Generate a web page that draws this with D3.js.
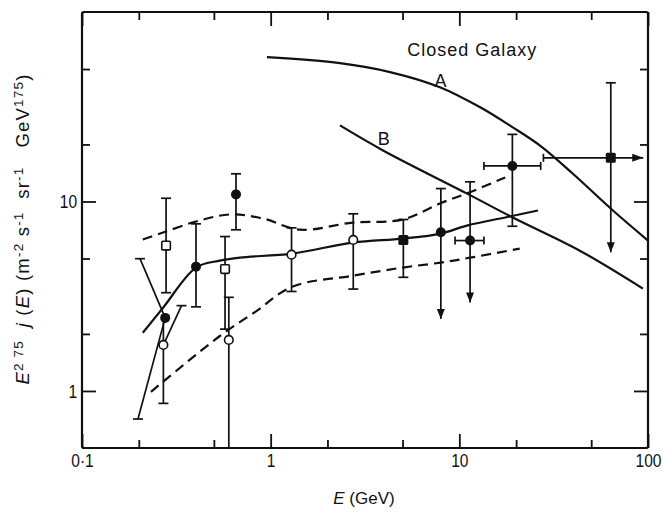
<!DOCTYPE html>
<html>
<head>
<meta charset="utf-8">
<script src="https://cdn.jsdelivr.net/npm/d3@7"></script>
<style>
  body { margin: 0; background: #fff; }
  svg { display: block; }
</style>
</head>
<body>
<div id="chart"></div>
<script>
// Axis ticks
const xMajorTicks = [0.1, 1, 10, 100];
const xMajorLabels = ['0·1', '1', '10', '100'];
const xMinorTicks = [0.2, 0.5, 2, 5, 20, 50];
const yMajorTicks = [1, 10];
const yMajorLabels = ['1', '10'];
const yMinorTicks = [2, 5, 20, 50];

// Closed galaxy model curves [E (GeV), flux]
const curveA = [[0.955, 57.8], [2.33, 53.7], [4.29, 48.2], [7.89, 40.1], [12.9, 31.4],
    [19.2, 24.6], [27.0, 19.6], [40.0, 14.0], [65.2, 8.96], [100, 6.22]];
const curveB = [[2.33, 25.2], [3.94, 18.6], [11.0, 11.0], [19.2, 8.23], [43.5, 5.5], [94, 3.47]];

// Fit through the data and its upper / lower bounds
const fitMid = [[0.21, 2.03], [0.269, 2.75], [0.402, 4.48], [0.538, 4.87], [0.687, 5.06],
    [1.30, 5.31], [2.73, 6.07], [5.02, 6.37], [7.98, 6.77], [10.96, 7.46], [18.5, 8.33], [26.1, 8.96]];
const fitUpper = [[0.21, 6.30], [0.269, 6.86], [0.402, 7.84], [0.608, 8.54], [0.91, 8.13],
    [1.43, 7.1], [2.73, 7.74], [5.02, 8.03], [7.89, 9.76], [11.4, 11.2], [17.5, 13.4]];
const fitLower = [[0.232, 0.99], [0.538, 1.95], [0.836, 2.63], [1.30, 3.55], [2.73, 4.06],
    [5.02, 4.48], [7.98, 4.76], [11.4, 5.05], [20.9, 5.64]];

// Measurements: lo/hi = vertical error, xLo/xHi = energy range, *Limit = arrow
const openCircles = [
    { x: 0.27, y: 1.75, lo: 0.86, hi: 2.43, hiOpen: true },
    { x: 0.60, y: 1.86, lo: 0.5, hi: 3.12 },
    { x: 1.29, y: 5.24, lo: 3.35, hi: 7.26 },
    { x: 2.74, y: 6.27, lo: 3.45, hi: 8.61 }
];
const filledCircles = [
    { x: 0.276, y: 2.43 },
    { x: 0.402, y: 4.53, lo: 2.78, hi: 7.62 },
    { x: 0.655, y: 10.9, lo: 7.09, hi: 14.0 },
    { x: 7.98, y: 6.88, lo: 2.40, hi: 11.7, loLimit: true },
    { x: 11.4, y: 6.22, lo: 2.93, hi: 12.7, loLimit: true, xLo: 9.49, xHi: 13.5 },
    { x: 19.1, y: 15.4, lo: 7.40, hi: 22.6, xLo: 13.5, xHi: 27.0 }
];
const openSquares = [
    { x: 0.279, y: 5.85, lo: 3.30, hi: 10.4 },
    { x: 0.573, y: 4.40, lo: 2.12, hi: 6.53 }
];
const filledSquares = [
    { x: 5.05, y: 6.27, lo: 3.98, hi: 8.03 },
    { x: 63.5, y: 17.0, lo: 5.39, hi: 42.3, loLimit: true, xLo: 27.9, xHi: 94.4, xLimit: true }
];
// slanted bars from a point to a capped end
const slantBars = [
    { from: [0.276, 2.43], to: [0.203, 4.99] },
    { from: [0.276, 2.43], to: [0.198, 0.711] },
    { from: [0.27, 1.75], to: [0.337, 2.82] }
];

const curveLabels = [
    { text: 'Closed Galaxy', x: 11.7, y: 63 },
    { text: 'A', x: 8.0, y: 43.5 },
    { text: 'B', x: 4.0, y: 21.5 }
];

const W = 663, H = 513;
const margin = { top: 12, right: 15, bottom: 65, left: 82 };
const width = W - margin.left - margin.right;
const height = H - margin.top - margin.bottom;
const ink = '#111';
const textFont = '"Liberation Sans", Arial, sans-serif';

const svg = d3.select('#chart').append('svg')
    .attr('width', W)
    .attr('height', H);

const g = svg.append('g')
    .attr('transform', `translate(${margin.left},${margin.top})`);

const xScale = d3.scaleLog().domain([0.1, 100]).range([0, width]);
const yScale = d3.scaleLog().domain([0.5, 100]).range([height, 0]);

// Ticks on all four sides, pointing inward
function styleAxis(sel) {
    sel.select('.domain').remove();
    sel.selectAll('line').attr('stroke', ink).attr('stroke-width', 1.8);
    sel.selectAll('text')
        .attr('fill', ink)
        .attr('transform', 'scale(0.82,1)')
        .style('font-family', textFont)
        .style('font-size', '19px');
}

g.append('g').attr('transform', `translate(0,${height})`)
    .call(d3.axisBottom(xScale).tickValues(xMajorTicks).tickSize(-14).tickPadding(6)
        .tickFormat((d, i) => xMajorLabels[i]))
    .call(styleAxis);
g.append('g').attr('transform', `translate(0,${height})`)
    .call(d3.axisBottom(xScale).tickValues(xMinorTicks).tickSize(-8).tickFormat(''))
    .call(styleAxis);
g.append('g')
    .call(d3.axisTop(xScale).tickValues(xMajorTicks).tickSize(-14).tickFormat(''))
    .call(styleAxis);
g.append('g')
    .call(d3.axisTop(xScale).tickValues(xMinorTicks).tickSize(-8).tickFormat(''))
    .call(styleAxis);
g.append('g')
    .call(d3.axisLeft(yScale).tickValues(yMajorTicks).tickSize(-14).tickPadding(6)
        .tickFormat((d, i) => yMajorLabels[i]))
    .call(styleAxis);
g.append('g')
    .call(d3.axisLeft(yScale).tickValues(yMinorTicks).tickSize(-8).tickFormat(''))
    .call(styleAxis);
g.append('g').attr('transform', `translate(${width},0)`)
    .call(d3.axisRight(yScale).tickValues(yMajorTicks).tickSize(-14).tickFormat(''))
    .call(styleAxis);
g.append('g').attr('transform', `translate(${width},0)`)
    .call(d3.axisRight(yScale).tickValues(yMinorTicks).tickSize(-8).tickFormat(''))
    .call(styleAxis);

// Frame
g.append('rect')
    .attr('width', width)
    .attr('height', height)
    .attr('fill', 'none')
    .attr('stroke', ink)
    .attr('stroke-width', 2.2)
    .attr('rx', 2);

// Curves
const line = d3.line()
    .x(d => xScale(d[0]))
    .y(d => yScale(d[1]))
    .curve(d3.curveCatmullRom.alpha(0.5));

[
    { data: curveA, dash: null },
    { data: curveB, dash: null },
    { data: fitMid, dash: null },
    { data: fitUpper, dash: '10,6' },
    { data: fitLower, dash: '10,6' }
].forEach(c => {
    g.append('path')
        .datum(c.data)
        .attr('d', line)
        .attr('fill', 'none')
        .attr('stroke', ink)
        .attr('stroke-width', 2.2)
        .attr('stroke-dasharray', c.dash);
});

// Error bars
const bars = g.append('g')
    .attr('stroke', ink)
    .attr('stroke-width', 1.7)
    .attr('fill', ink);
const capHalf = 5;

function downArrow(px, py) {
    bars.append('path')
        .attr('stroke', 'none')
        .attr('d', `M${px},${py} L${px - 4},${py - 10} L${px + 4},${py - 10} Z`);
}
function rightArrow(px, py) {
    bars.append('path')
        .attr('stroke', 'none')
        .attr('d', `M${px},${py} L${px - 11},${py - 4} L${px - 11},${py + 4} Z`);
}

function errorBars(points) {
    points.forEach(p => {
        const cx = xScale(p.x);
        const cy = yScale(p.y);
        if (p.lo !== undefined) {
            const yLo = yScale(p.lo);
            const yHi = yScale(p.hi);
            bars.append('line').attr('x1', cx).attr('x2', cx).attr('y1', yLo).attr('y2', yHi);
            if (!p.hiOpen) {
                bars.append('line').attr('x1', cx - capHalf).attr('x2', cx + capHalf)
                    .attr('y1', yHi).attr('y2', yHi);
            }
            if (p.loLimit) {
                downArrow(cx, yLo);
            } else {
                bars.append('line').attr('x1', cx - capHalf).attr('x2', cx + capHalf)
                    .attr('y1', yLo).attr('y2', yLo);
            }
        }
        if (p.xLo !== undefined) {
            const xLo = xScale(p.xLo);
            const xHi = xScale(p.xHi);
            bars.append('line').attr('x1', xLo).attr('x2', xHi).attr('y1', cy).attr('y2', cy);
            bars.append('line').attr('x1', xLo).attr('x2', xLo)
                .attr('y1', cy - 4).attr('y2', cy + 4);
            if (p.xLimit) {
                rightArrow(xHi, cy);
            } else {
                bars.append('line').attr('x1', xHi).attr('x2', xHi)
                    .attr('y1', cy - 4).attr('y2', cy + 4);
            }
        }
    });
}

[openCircles, filledCircles, openSquares, filledSquares].forEach(errorBars);

slantBars.forEach(s => {
    const x1 = xScale(s.from[0]), y1 = yScale(s.from[1]);
    const x2 = xScale(s.to[0]), y2 = yScale(s.to[1]);
    bars.append('line').attr('x1', x1).attr('y1', y1).attr('x2', x2).attr('y2', y2);
    bars.append('line').attr('x1', x2 - capHalf).attr('x2', x2 + capHalf)
        .attr('y1', y2).attr('y2', y2);
});

// Markers
g.selectAll('.open-circle')
    .data(openCircles)
    .enter()
    .append('circle')
    .attr('class', 'open-circle')
    .attr('cx', d => xScale(d.x))
    .attr('cy', d => yScale(d.y))
    .attr('r', 4.3)
    .attr('fill', '#fff')
    .attr('stroke', ink)
    .attr('stroke-width', 1.6);

g.selectAll('.filled-circle')
    .data(filledCircles)
    .enter()
    .append('circle')
    .attr('class', 'filled-circle')
    .attr('cx', d => xScale(d.x))
    .attr('cy', d => yScale(d.y))
    .attr('r', 5)
    .attr('fill', ink);

g.selectAll('.open-square')
    .data(openSquares)
    .enter()
    .append('rect')
    .attr('class', 'open-square')
    .attr('x', d => xScale(d.x) - 4.3)
    .attr('y', d => yScale(d.y) - 4.3)
    .attr('width', 8.6)
    .attr('height', 8.6)
    .attr('rx', 1)
    .attr('fill', '#fff')
    .attr('stroke', ink)
    .attr('stroke-width', 1.6);

g.selectAll('.filled-square')
    .data(filledSquares)
    .enter()
    .append('rect')
    .attr('class', 'filled-square')
    .attr('x', d => xScale(d.x) - 5)
    .attr('y', d => yScale(d.y) - 5)
    .attr('width', 10)
    .attr('height', 10)
    .attr('rx', 1.5)
    .attr('fill', ink);

// Labels in the plot
g.selectAll('.curve-label')
    .data(curveLabels)
    .enter()
    .append('text')
    .attr('class', 'curve-label')
    .attr('x', d => xScale(d.x))
    .attr('y', d => yScale(d.y))
    .attr('text-anchor', 'middle')
    .attr('dy', '0.35em')
    .style('font-family', textFont)
    .style('font-size', '18px')
    .style('letter-spacing', '1px')
    .attr('fill', ink)
    .text(d => d.text);

// Axis titles
const xTitle = svg.append('text')
    .attr('x', 364)
    .attr('y', 504)
    .attr('text-anchor', 'middle')
    .style('font-family', textFont)
    .style('font-size', '17px')
    .attr('fill', ink);
xTitle.append('tspan').style('font-style', 'italic').text('E');
xTitle.append('tspan').text(' (GeV)');

const yTitleParts = [
    { t: 'E', it: true },
    { t: '2 75', sup: true },
    { t: '  ' },
    { t: 'j', it: true },
    { t: ' (' },
    { t: 'E', it: true },
    { t: ') (m' },
    { t: '-2', sup: true },
    { t: ' s' },
    { t: '-1', sup: true },
    { t: '  sr' },
    { t: '-1', sup: true },
    { t: '   GeV' },
    { t: '175', sup: true },
    { t: ')' }
];
const yTitle = svg.append('text')
    .attr('transform', 'translate(29,229) rotate(-90)')
    .attr('text-anchor', 'middle')
    .style('font-family', textFont)
    .style('font-size', '18.5px')
    .style('letter-spacing', '1.2px')
    .style('white-space', 'pre')
    .attr('fill', ink);
let raised = false;
yTitleParts.forEach(p => {
    const ts = yTitle.append('tspan').text(p.t);
    if (p.it) ts.style('font-style', 'italic');
    if (p.sup && !raised) {
        ts.attr('dy', -6).style('font-size', '13.5px');
        raised = true;
    } else if (p.sup) {
        ts.style('font-size', '13.5px');
    } else if (raised) {
        ts.attr('dy', 6);
        raised = false;
    }
});
</script>
</body>
</html>
